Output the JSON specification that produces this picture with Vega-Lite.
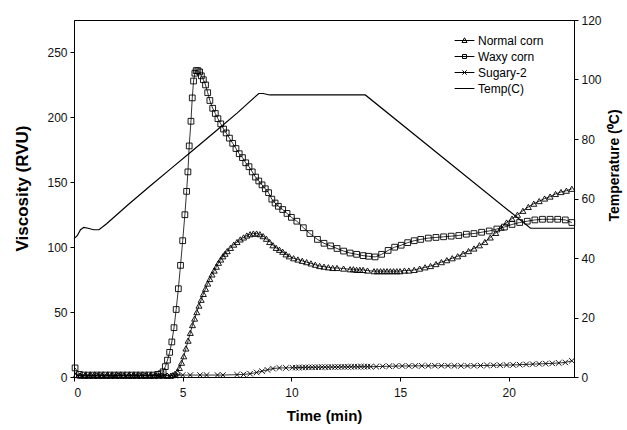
{
  "$schema": "https://vega.github.io/schema/vega-lite/v6.json",
  "width": 500,
  "height": 357,
  "autosize": "none",
  "padding": {"left": 74, "top": 20, "right": 53, "bottom": 53},
  "background": "white",
  "datasets": {
    "visc": [
      {"series":"Waxy corn","t":0.05,"v":7},{"series":"Waxy corn","t":0.25,"v":2},{"series":"Waxy corn","t":0.45,"v":1.5},{"series":"Waxy corn","t":0.65,"v":1.5},{"series":"Waxy corn","t":0.85,"v":1.5},{"series":"Waxy corn","t":1.05,"v":1.5},{"series":"Waxy corn","t":1.25,"v":1.5},{"series":"Waxy corn","t":1.45,"v":1.5},{"series":"Waxy corn","t":1.65,"v":1.5},{"series":"Waxy corn","t":1.85,"v":1.5},{"series":"Waxy corn","t":2.05,"v":1.5},{"series":"Waxy corn","t":2.25,"v":1.5},{"series":"Waxy corn","t":2.45,"v":1.5},{"series":"Waxy corn","t":2.65,"v":1.5},{"series":"Waxy corn","t":2.85,"v":1.5},{"series":"Waxy corn","t":3.05,"v":1.5},{"series":"Waxy corn","t":3.25,"v":1.5},{"series":"Waxy corn","t":3.45,"v":1.5},{"series":"Waxy corn","t":3.65,"v":1.5},{"series":"Waxy corn","t":3.85,"v":2},
      {"series":"Waxy corn","t":4.0,"v":2.5},{"series":"Waxy corn","t":4.1,"v":4},{"series":"Waxy corn","t":4.2,"v":8},{"series":"Waxy corn","t":4.3,"v":13},{"series":"Waxy corn","t":4.4,"v":19},{"series":"Waxy corn","t":4.5,"v":27},{"series":"Waxy corn","t":4.6,"v":38},{"series":"Waxy corn","t":4.7,"v":52},{"series":"Waxy corn","t":4.8,"v":68},{"series":"Waxy corn","t":4.9,"v":86},{"series":"Waxy corn","t":5.0,"v":105},{"series":"Waxy corn","t":5.1,"v":125},{"series":"Waxy corn","t":5.18,"v":143},{"series":"Waxy corn","t":5.24,"v":158},{"series":"Waxy corn","t":5.3,"v":178},{"series":"Waxy corn","t":5.38,"v":197},{"series":"Waxy corn","t":5.44,"v":215},{"series":"Waxy corn","t":5.5,"v":228},{"series":"Waxy corn","t":5.56,"v":234},{"series":"Waxy corn","t":5.62,"v":236},{"series":"Waxy corn","t":5.7,"v":236},{"series":"Waxy corn","t":5.78,"v":235},{"series":"Waxy corn","t":5.86,"v":232},
      {"series":"Waxy corn","t":5.95,"v":229},{"series":"Waxy corn","t":6.05,"v":225},{"series":"Waxy corn","t":6.15,"v":219},{"series":"Waxy corn","t":6.25,"v":213},{"series":"Waxy corn","t":6.38,"v":207},{"series":"Waxy corn","t":6.5,"v":203},{"series":"Waxy corn","t":6.62,"v":199},{"series":"Waxy corn","t":6.75,"v":195},{"series":"Waxy corn","t":6.88,"v":191},{"series":"Waxy corn","t":7.0,"v":188},{"series":"Waxy corn","t":7.15,"v":184},{"series":"Waxy corn","t":7.3,"v":180},{"series":"Waxy corn","t":7.45,"v":176},{"series":"Waxy corn","t":7.6,"v":172},{"series":"Waxy corn","t":7.75,"v":169},{"series":"Waxy corn","t":7.9,"v":165},{"series":"Waxy corn","t":8.05,"v":162},{"series":"Waxy corn","t":8.2,"v":158},{"series":"Waxy corn","t":8.35,"v":154},{"series":"Waxy corn","t":8.5,"v":151},{"series":"Waxy corn","t":8.65,"v":148},{"series":"Waxy corn","t":8.8,"v":145},{"series":"Waxy corn","t":8.95,"v":142},{"series":"Waxy corn","t":9.1,"v":137},{"series":"Waxy corn","t":9.25,"v":134},{"series":"Waxy corn","t":9.4,"v":131.5},{"series":"Waxy corn","t":9.6,"v":129},{"series":"Waxy corn","t":9.8,"v":126},{"series":"Waxy corn","t":10.0,"v":123},{"series":"Waxy corn","t":10.25,"v":120},{"series":"Waxy corn","t":10.55,"v":115},{"series":"Waxy corn","t":10.85,"v":110.5},{"series":"Waxy corn","t":11.2,"v":106},{"series":"Waxy corn","t":11.5,"v":103},{"series":"Waxy corn","t":11.8,"v":101},{"series":"Waxy corn","t":12.1,"v":99},{"series":"Waxy corn","t":12.4,"v":97},{"series":"Waxy corn","t":12.7,"v":95.5},{"series":"Waxy corn","t":13.0,"v":94.5},{"series":"Waxy corn","t":13.3,"v":93.5},{"series":"Waxy corn","t":13.55,"v":93},{"series":"Waxy corn","t":13.85,"v":92.5},{"series":"Waxy corn","t":14.15,"v":94.5},{"series":"Waxy corn","t":14.45,"v":97.5},{"series":"Waxy corn","t":14.75,"v":100},{"series":"Waxy corn","t":15.05,"v":101.5},{"series":"Waxy corn","t":15.35,"v":103.5},{"series":"Waxy corn","t":15.65,"v":105},{"series":"Waxy corn","t":15.95,"v":106},{"series":"Waxy corn","t":16.3,"v":107},{"series":"Waxy corn","t":16.65,"v":107.5},{"series":"Waxy corn","t":17.0,"v":108},{"series":"Waxy corn","t":17.35,"v":108.5},{"series":"Waxy corn","t":17.7,"v":109},{"series":"Waxy corn","t":18.05,"v":110},{"series":"Waxy corn","t":18.4,"v":110.5},{"series":"Waxy corn","t":18.75,"v":111.5},{"series":"Waxy corn","t":19.1,"v":112.5},{"series":"Waxy corn","t":19.45,"v":114},{"series":"Waxy corn","t":19.8,"v":115.5},{"series":"Waxy corn","t":20.15,"v":117.5},{"series":"Waxy corn","t":20.5,"v":119},{"series":"Waxy corn","t":20.85,"v":120},{"series":"Waxy corn","t":21.2,"v":121},{"series":"Waxy corn","t":21.55,"v":121.5},{"series":"Waxy corn","t":21.9,"v":121.5},{"series":"Waxy corn","t":22.25,"v":121.5},{"series":"Waxy corn","t":22.6,"v":121},{"series":"Waxy corn","t":22.9,"v":119},

      {"series":"Normal corn","t":0.1,"v":1.5},{"series":"Normal corn","t":0.3,"v":1},{"series":"Normal corn","t":0.5,"v":1},{"series":"Normal corn","t":0.7,"v":1},{"series":"Normal corn","t":0.9,"v":1},{"series":"Normal corn","t":1.1,"v":1},{"series":"Normal corn","t":1.3,"v":1},{"series":"Normal corn","t":1.5,"v":1},{"series":"Normal corn","t":1.7,"v":1},{"series":"Normal corn","t":1.9,"v":1},{"series":"Normal corn","t":2.1,"v":1},{"series":"Normal corn","t":2.3,"v":1},{"series":"Normal corn","t":2.5,"v":1},{"series":"Normal corn","t":2.7,"v":1},{"series":"Normal corn","t":2.9,"v":1},{"series":"Normal corn","t":3.1,"v":1},{"series":"Normal corn","t":3.3,"v":1},{"series":"Normal corn","t":3.5,"v":1},{"series":"Normal corn","t":3.7,"v":1},{"series":"Normal corn","t":3.9,"v":1},{"series":"Normal corn","t":4.1,"v":1},{"series":"Normal corn","t":4.3,"v":1},{"series":"Normal corn","t":4.45,"v":1},
      {"series":"Normal corn","t":4.55,"v":1.5},{"series":"Normal corn","t":4.65,"v":2.5},{"series":"Normal corn","t":4.75,"v":4},{"series":"Normal corn","t":4.85,"v":7},{"series":"Normal corn","t":4.95,"v":11},{"series":"Normal corn","t":5.05,"v":16},{"series":"Normal corn","t":5.15,"v":22},{"series":"Normal corn","t":5.25,"v":28},{"series":"Normal corn","t":5.35,"v":34},{"series":"Normal corn","t":5.45,"v":40},{"series":"Normal corn","t":5.55,"v":45},{"series":"Normal corn","t":5.65,"v":50},{"series":"Normal corn","t":5.75,"v":55},{"series":"Normal corn","t":5.85,"v":59.5},{"series":"Normal corn","t":5.95,"v":64},{"series":"Normal corn","t":6.05,"v":68},{"series":"Normal corn","t":6.15,"v":72},{"series":"Normal corn","t":6.25,"v":75.5},{"series":"Normal corn","t":6.35,"v":79},{"series":"Normal corn","t":6.45,"v":82},{"series":"Normal corn","t":6.55,"v":85},{"series":"Normal corn","t":6.65,"v":88},{"series":"Normal corn","t":6.75,"v":90.5},{"series":"Normal corn","t":6.85,"v":93},{"series":"Normal corn","t":6.95,"v":95},{"series":"Normal corn","t":7.05,"v":97},{"series":"Normal corn","t":7.2,"v":99.5},{"series":"Normal corn","t":7.35,"v":102},{"series":"Normal corn","t":7.5,"v":104},{"series":"Normal corn","t":7.65,"v":106},{"series":"Normal corn","t":7.8,"v":107.5},{"series":"Normal corn","t":7.95,"v":109},{"series":"Normal corn","t":8.1,"v":110},{"series":"Normal corn","t":8.25,"v":110.5},{"series":"Normal corn","t":8.4,"v":110.5},{"series":"Normal corn","t":8.55,"v":110},{"series":"Normal corn","t":8.7,"v":108.5},{"series":"Normal corn","t":8.85,"v":106.5},{"series":"Normal corn","t":9.0,"v":104},{"series":"Normal corn","t":9.15,"v":101.5},{"series":"Normal corn","t":9.3,"v":99.5},{"series":"Normal corn","t":9.45,"v":98},{"series":"Normal corn","t":9.6,"v":96.5},{"series":"Normal corn","t":9.75,"v":94.5},{"series":"Normal corn","t":9.9,"v":93},{"series":"Normal corn","t":10.1,"v":91.5},{"series":"Normal corn","t":10.3,"v":90.5},{"series":"Normal corn","t":10.5,"v":89.5},{"series":"Normal corn","t":10.7,"v":88.5},{"series":"Normal corn","t":10.9,"v":87.5},{"series":"Normal corn","t":11.1,"v":86.5},{"series":"Normal corn","t":11.3,"v":85.5},{"series":"Normal corn","t":11.5,"v":85},{"series":"Normal corn","t":11.7,"v":84.5},{"series":"Normal corn","t":11.9,"v":84},{"series":"Normal corn","t":12.1,"v":84},{"series":"Normal corn","t":12.4,"v":83.5},{"series":"Normal corn","t":12.7,"v":83},{"series":"Normal corn","t":12.85,"v":83},{"series":"Normal corn","t":13.0,"v":82.5},{"series":"Normal corn","t":13.15,"v":82.5},{"series":"Normal corn","t":13.3,"v":82.5},{"series":"Normal corn","t":13.5,"v":82},{"series":"Normal corn","t":13.8,"v":81.5},{"series":"Normal corn","t":13.95,"v":81.5},{"series":"Normal corn","t":14.1,"v":81.5},{"series":"Normal corn","t":14.25,"v":81.5},{"series":"Normal corn","t":14.4,"v":81.5},{"series":"Normal corn","t":14.55,"v":81.5},{"series":"Normal corn","t":14.7,"v":81.5},{"series":"Normal corn","t":14.85,"v":81.5},{"series":"Normal corn","t":15.0,"v":81.5},{"series":"Normal corn","t":15.2,"v":82},{"series":"Normal corn","t":15.4,"v":82},{"series":"Normal corn","t":15.65,"v":82.5},{"series":"Normal corn","t":15.9,"v":83.5},{"series":"Normal corn","t":16.15,"v":84.5},{"series":"Normal corn","t":16.4,"v":85.5},{"series":"Normal corn","t":16.65,"v":87},{"series":"Normal corn","t":16.9,"v":88.5},{"series":"Normal corn","t":17.15,"v":90},{"series":"Normal corn","t":17.4,"v":91.5},{"series":"Normal corn","t":17.65,"v":93},{"series":"Normal corn","t":17.9,"v":95},{"series":"Normal corn","t":18.15,"v":97},{"series":"Normal corn","t":18.4,"v":99},{"series":"Normal corn","t":18.65,"v":101.5},{"series":"Normal corn","t":18.9,"v":104},{"series":"Normal corn","t":19.15,"v":107.5},{"series":"Normal corn","t":19.4,"v":111},{"series":"Normal corn","t":19.65,"v":115},{"series":"Normal corn","t":19.9,"v":119},{"series":"Normal corn","t":20.15,"v":122},{"series":"Normal corn","t":20.4,"v":125},{"series":"Normal corn","t":20.65,"v":128},{"series":"Normal corn","t":20.9,"v":131},{"series":"Normal corn","t":21.15,"v":133.5},{"series":"Normal corn","t":21.4,"v":135.5},{"series":"Normal corn","t":21.65,"v":137.5},{"series":"Normal corn","t":21.9,"v":139},{"series":"Normal corn","t":22.15,"v":141},{"series":"Normal corn","t":22.4,"v":142.5},{"series":"Normal corn","t":22.65,"v":143.5},{"series":"Normal corn","t":22.9,"v":145},

      {"series":"Sugary-2","t":0.15,"v":1},{"series":"Sugary-2","t":0.4,"v":1},{"series":"Sugary-2","t":0.65,"v":1},{"series":"Sugary-2","t":0.9,"v":1},{"series":"Sugary-2","t":1.15,"v":1},{"series":"Sugary-2","t":1.4,"v":1},{"series":"Sugary-2","t":1.65,"v":1},{"series":"Sugary-2","t":1.9,"v":1},{"series":"Sugary-2","t":2.15,"v":1},{"series":"Sugary-2","t":2.4,"v":1},{"series":"Sugary-2","t":2.65,"v":1},{"series":"Sugary-2","t":2.9,"v":1},{"series":"Sugary-2","t":3.15,"v":1},{"series":"Sugary-2","t":3.4,"v":1},{"series":"Sugary-2","t":3.65,"v":1},{"series":"Sugary-2","t":3.9,"v":1},{"series":"Sugary-2","t":4.15,"v":1},{"series":"Sugary-2","t":4.4,"v":1},{"series":"Sugary-2","t":4.65,"v":1},
      {"series":"Sugary-2","t":5.0,"v":1.5},{"series":"Sugary-2","t":5.35,"v":1.5},{"series":"Sugary-2","t":5.8,"v":1.5},{"series":"Sugary-2","t":6.1,"v":1.5},{"series":"Sugary-2","t":6.6,"v":1.5},{"series":"Sugary-2","t":6.85,"v":1.5},{"series":"Sugary-2","t":7.5,"v":1.8},{"series":"Sugary-2","t":7.8,"v":2},{"series":"Sugary-2","t":8.1,"v":2.5},{"series":"Sugary-2","t":8.4,"v":3.5},{"series":"Sugary-2","t":8.65,"v":4.5},{"series":"Sugary-2","t":8.9,"v":5.5},{"series":"Sugary-2","t":9.15,"v":6.5},{"series":"Sugary-2","t":9.45,"v":7},{"series":"Sugary-2","t":9.75,"v":7},{"series":"Sugary-2","t":10.05,"v":7.2},{"series":"Sugary-2","t":10.2,"v":7.2},{"series":"Sugary-2","t":10.35,"v":7.3},{"series":"Sugary-2","t":10.5,"v":7.3},{"series":"Sugary-2","t":10.65,"v":7.4},{"series":"Sugary-2","t":10.8,"v":7.4},{"series":"Sugary-2","t":10.95,"v":7.5},{"series":"Sugary-2","t":11.1,"v":7.5},{"series":"Sugary-2","t":11.25,"v":7.5},{"series":"Sugary-2","t":11.4,"v":7.6},{"series":"Sugary-2","t":11.55,"v":7.6},{"series":"Sugary-2","t":11.7,"v":7.6},{"series":"Sugary-2","t":11.85,"v":7.7},{"series":"Sugary-2","t":12.0,"v":7.7},{"series":"Sugary-2","t":12.15,"v":7.7},{"series":"Sugary-2","t":12.3,"v":7.8},{"series":"Sugary-2","t":12.45,"v":7.8},{"series":"Sugary-2","t":12.6,"v":7.8},{"series":"Sugary-2","t":12.75,"v":7.9},{"series":"Sugary-2","t":12.9,"v":7.9},{"series":"Sugary-2","t":13.05,"v":7.9},{"series":"Sugary-2","t":13.2,"v":8},{"series":"Sugary-2","t":13.35,"v":8},{"series":"Sugary-2","t":13.5,"v":8},{"series":"Sugary-2","t":13.65,"v":8},{"series":"Sugary-2","t":13.9,"v":8},{"series":"Sugary-2","t":14.2,"v":8.2},{"series":"Sugary-2","t":14.5,"v":8.3},{"series":"Sugary-2","t":14.8,"v":8.4},{"series":"Sugary-2","t":15.1,"v":8.5},{"series":"Sugary-2","t":15.4,"v":8.5},{"series":"Sugary-2","t":15.7,"v":8.6},{"series":"Sugary-2","t":16.0,"v":8.6},{"series":"Sugary-2","t":16.3,"v":8.6},{"series":"Sugary-2","t":16.6,"v":8.7},{"series":"Sugary-2","t":16.9,"v":8.7},{"series":"Sugary-2","t":17.2,"v":8.7},{"series":"Sugary-2","t":17.5,"v":8.6},{"series":"Sugary-2","t":17.8,"v":8.6},{"series":"Sugary-2","t":18.1,"v":8.6},{"series":"Sugary-2","t":18.4,"v":8.7},{"series":"Sugary-2","t":18.7,"v":8.8},{"series":"Sugary-2","t":19.0,"v":8.9},{"series":"Sugary-2","t":19.3,"v":9},{"series":"Sugary-2","t":19.6,"v":9.1},{"series":"Sugary-2","t":19.9,"v":9.2},{"series":"Sugary-2","t":20.2,"v":9.3},{"series":"Sugary-2","t":20.5,"v":9.5},{"series":"Sugary-2","t":20.8,"v":9.7},{"series":"Sugary-2","t":21.1,"v":9.9},{"series":"Sugary-2","t":21.4,"v":10.1},{"series":"Sugary-2","t":21.7,"v":10.3},{"series":"Sugary-2","t":22.0,"v":10.5},{"series":"Sugary-2","t":22.3,"v":10.8},{"series":"Sugary-2","t":22.6,"v":11.2},{"series":"Sugary-2","t":22.9,"v":12.5}
    ],
    "temp": [
      {"series":"Temp(C)","t":0,"v":46.5},{"series":"Temp(C)","t":0.15,"v":47.5},{"series":"Temp(C)","t":0.3,"v":49.5},{"series":"Temp(C)","t":0.45,"v":50.3},{"series":"Temp(C)","t":0.65,"v":50},{"series":"Temp(C)","t":0.9,"v":49.5},{"series":"Temp(C)","t":1.15,"v":49.5},{"series":"Temp(C)","t":1.5,"v":51.5},{"series":"Temp(C)","t":2.5,"v":58},{"series":"Temp(C)","t":3.5,"v":64.2},{"series":"Temp(C)","t":4.5,"v":70.3},{"series":"Temp(C)","t":5.5,"v":76.4},{"series":"Temp(C)","t":6.5,"v":82.5},{"series":"Temp(C)","t":7.5,"v":88.7},{"series":"Temp(C)","t":8.5,"v":95.3},{"series":"Temp(C)","t":8.7,"v":95.3},{"series":"Temp(C)","t":9.0,"v":94.8},{"series":"Temp(C)","t":13.4,"v":94.8},{"series":"Temp(C)","t":21.0,"v":50},{"series":"Temp(C)","t":23,"v":50}
    ]
  },
  "layer": [
    {
      "data": {"name": "visc"},
      "layer": [
        {
          "mark": {"type": "line", "strokeWidth": 0.8},
          "encoding": {
            "x": {"field": "t", "type": "quantitative", "scale": {"domain": [0, 23], "nice": false, "zero": false},
                  "axis": {"title": "Time (min)", "values": [0, 5, 10, 15, 20], "labelPadding": 6, "titlePadding": 10, "titleFontSize": 15}},
            "y": {"field": "v", "type": "quantitative", "scale": {"domain": [0, 275], "nice": false},
                  "axis": {"title": "Viscosity (RVU)", "values": [0, 50, 100, 150, 200, 250], "titleFontSize": 17, "titlePadding": 15, "titleY": 168}},
            "color": {"field": "series", "type": "nominal",
                      "scale": {"domain": ["Normal corn", "Waxy corn", "Sugary-2", "Temp(C)"], "range": ["black", "black", "black", "black"]},
                      "legend": {
                        "title": null, "orient": "none", "legendX": 381, "legendY": 11,
                        "symbolSize": 324, "labelFont": "Liberation Sans", "labelFontSize": 12, "labelColor": "black",
                        "labelOffset": 4, "rowPadding": 0, "symbolStrokeWidth": 1,
                        "encode": {"symbols": {"update": {
                          "shape": {"signal": "datum.value === 'Normal corn' ? 'M-1.1,0H1.1M0,-0.3L0.28,0.22L-0.28,0.22Z' : datum.value === 'Waxy corn' ? 'M-1.1,0H1.1M-0.22,-0.22H0.22V0.22H-0.22Z' : datum.value === 'Sugary-2' ? 'M-1.1,0H1.1M-0.24,-0.24L0.24,0.24M-0.24,0.24L0.24,-0.24' : 'M-1.1,0H1.1'"},
                          "fill": {"value": "white"}, "stroke": {"value": "black"}, "strokeWidth": {"value": 1}, "opacity": {"value": 1}
                        }}}
                      }}
          }
        },
        {
          "mark": {"type": "point", "filled": false, "color": "black", "strokeWidth": 0.9, "opacity": 1},
          "encoding": {
            "x": {"field": "t", "type": "quantitative"},
            "y": {"field": "v", "type": "quantitative"},
            "shape": {"field": "series", "type": "nominal",
                      "scale": {"domain": ["Normal corn", "Waxy corn", "Sugary-2"], "range": ["triangle-up", "square", "M-1,-1L1,1M-1,1L1,-1"]},
                      "legend": null},
            "size": {"field": "series", "type": "nominal",
                     "scale": {"domain": ["Normal corn", "Waxy corn", "Sugary-2"], "range": [36, 30, 24]},
                     "legend": null}
          }
        }
      ]
    },
    {
      "data": {"name": "temp"},
      "mark": {"type": "line", "strokeWidth": 1.2},
      "encoding": {
        "x": {"field": "t", "type": "quantitative"},
        "y": {"field": "v", "type": "quantitative", "scale": {"domain": [0, 120], "nice": false},
              "axis": {"orient": "right", "title": "Temperature (⁰C)", "values": [0, 20, 40, 60, 80, 100, 120],
                       "titleFontSize": 14, "titlePadding": 6, "titleAngle": 270, "titleBaseline": "top", "titleY": 145}},
        "color": {"field": "series", "type": "nominal"}
      }
    }
  ],
  "resolve": {"scale": {"y": "independent"}},
  "config": {
    "font": "Liberation Sans",
    "view": {"stroke": "black", "strokeWidth": 1},
    "axis": {
      "grid": false, "labelFont": "Liberation Sans", "labelFontSize": 12, "labelColor": "#111",
      "titleFont": "Liberation Sans", "titleFontWeight": "bold", "titleColor": "black",
      "domainColor": "black", "tickColor": "black", "tickSize": 4, "labelPadding": 3
    }
  }
}
